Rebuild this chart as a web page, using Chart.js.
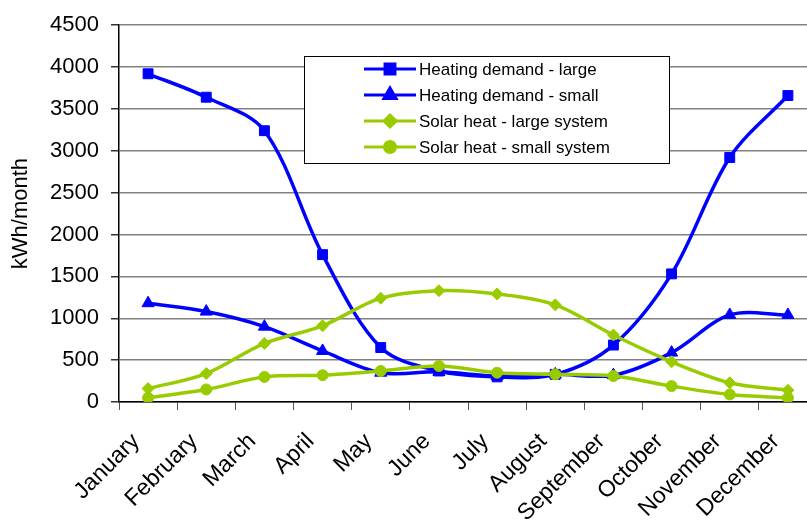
<!DOCTYPE html>
<html>
<head>
<meta charset="utf-8">
<script src="https://cdn.jsdelivr.net/npm/chart.js@4.4.0/dist/chart.umd.min.js"></script>
<style>
  html, body { margin: 0; padding: 0; background: #fff; overflow: hidden; }
  #wrap { width: 830px; height: 525px; }
</style>
</head>
<body>
<div id="wrap"><canvas id="line-chart"></canvas></div>
<script>
const months = ['January', 'February', 'March', 'April', 'May', 'June',
    'July', 'August', 'September', 'October', 'November', 'December'];
const heatingLarge = [3920, 3640, 3240, 1760, 650, 370, 300, 330, 680, 1530, 2920, 3660];
const heatingSmall = [1180, 1080, 900, 610, 350, 360, 310, 330, 320, 590, 1040, 1040];
const solarLarge = [160, 340, 700, 910, 1240, 1330, 1290, 1160, 800, 480, 230, 140];
const solarSmall = [50, 150, 300, 320, 370, 430, 350, 330, 310, 190, 90, 50];

const blue = '#0000ff';
const green = '#99cc00';
const font = "'Liberation Sans', Arial, sans-serif";

// legend box drawn inside the plot, like the original
const boxLegend = {
    id: 'boxLegend',
    afterDraw(chart) {
        const ctx = chart.ctx;
        ctx.save();
        ctx.fillStyle = '#fff';
        ctx.fillRect(304, 56, 365, 107);
        ctx.strokeStyle = '#000';
        ctx.lineWidth = 1;
        ctx.strokeRect(304.5, 56.5, 365, 107);
        chart.data.datasets.forEach((ds, i) => {
            const y = 69 + i * 26;
            ctx.strokeStyle = ds.borderColor;
            ctx.lineWidth = 3;
            ctx.beginPath();
            ctx.moveTo(364, y);
            ctx.lineTo(416, y);
            ctx.stroke();
            ctx.fillStyle = ds.borderColor;
            Chart.helpers.drawPoint(ctx, {
                pointStyle: ds.pointStyle,
                radius: ds.pointRadius,
                borderWidth: 1
            }, 390, y);
            ctx.fill();
            ctx.fillStyle = '#000';
            ctx.font = '17px ' + font;
            ctx.textBaseline = 'middle';
            ctx.fillText(ds.label, 419, y + 1);
        });
        ctx.restore();
    }
};

const series = [
    { label: 'Heating demand - large', data: heatingLarge, color: blue, style: 'rect', r: 7, order: 4 },
    { label: 'Heating demand - small', data: heatingSmall, color: blue, style: 'triangle', r: 7, order: 3 },
    { label: 'Solar heat - large system', data: solarLarge, color: green, style: 'rectRot', r: 6, order: 2 },
    { label: 'Solar heat - small system', data: solarSmall, color: green, style: 'circle', r: 5.5, order: 1 }
];

const ctx = document.getElementById('line-chart').getContext('2d');
new Chart(ctx, {
    type: 'line',
    data: {
        labels: months,
        datasets: series.map(s => ({
            label: s.label,
            data: s.data,
            borderColor: s.color,
            backgroundColor: s.color,
            pointBackgroundColor: s.color,
            pointBorderColor: s.color,
            pointStyle: s.style,
            pointRadius: s.r,
            pointBorderWidth: 1,
            borderWidth: 3.5,
            tension: 0.33,
            fill: false,
            order: s.order
        }))
    },
    options: {
        responsive: true,
        maintainAspectRatio: false,
        animation: false,
        layout: { padding: { top: 24, right: 13, left: 0, bottom: 0 } },
        plugins: {
            legend: { display: false },
            tooltip: { enabled: false }
        },
        scales: {
            x: {
                offset: true,
                grid: {
                    offset: true,
                    drawOnChartArea: false,
                    drawTicks: true,
                    tickLength: 8,
                    tickColor: '#555'
                },
                border: { color: '#000', width: 1.5 },
                ticks: {
                    color: '#000',
                    font: { family: font, size: 23 },
                    minRotation: 45,
                    maxRotation: 45,
                    autoSkip: false,
                    padding: 18,
                    labelOffset: -12
                },
                afterFit(scale) { scale.height = 123; }
            },
            y: {
                min: 0,
                max: 4500,
                ticks: {
                    stepSize: 500,
                    color: '#000',
                    font: { family: font, size: 22 },
                    padding: 12,
                    callback: v => String(v)
                },
                grid: {
                    color: '#808080',
                    lineWidth: 1.5,
                    tickLength: 8,
                    tickColor: '#333'
                },
                border: { color: '#000', width: 1.5 },
                title: {
                    display: true,
                    text: 'kWh/month',
                    color: '#000',
                    font: { family: font, size: 22 },
                    padding: { top: 8, bottom: 0 }
                },
                afterFit(scale) { scale.width = 119; }
            }
        }
    },
    plugins: [boxLegend]
});
</script>
</body>
</html>
